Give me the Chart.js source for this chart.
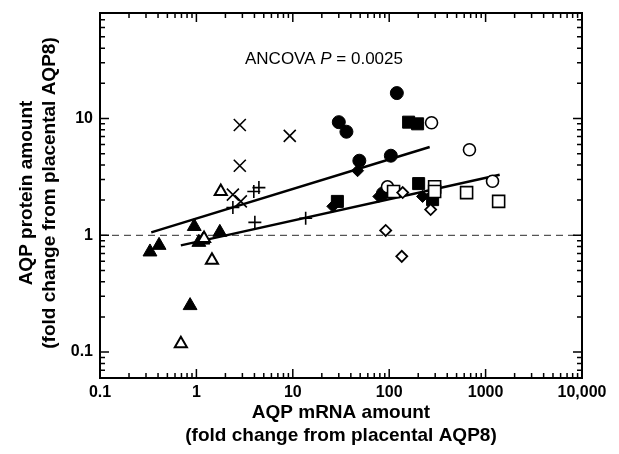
<!DOCTYPE html>
<html>
<head>
<meta charset="utf-8">
<script src="https://cdn.jsdelivr.net/npm/chart.js@4/dist/chart.umd.min.js"></script>
<style>
  html, body { margin: 0; padding: 0; background: #fff; }
  #wrap { width: 619px; height: 454px; }
</style>
</head>
<body>
<div id="wrap"><canvas id="myChart" width="619" height="454"></canvas></div>
<script>
// valeurs : [ARNm, protéine]
const filledCircles = [[120, 16.5], [30, 9.3], [36, 7.7], [49, 4.35], [104, 4.8], [86, 2.28]];
const filledSquares = [[159, 9.3], [197, 9.0], [29, 1.95], [202, 2.77], [282, 2.02]];
const filledDiamonds = [[47, 3.57], [26, 1.77], [78, 2.15], [222, 2.15]];
const filledTriangles = [[0.33, 0.72], [0.41, 0.82], [0.95, 1.19], [1.17, 0.91], [1.06, 0.87], [1.75, 1.06], [0.86, 0.25]];
const openCircles = [[275, 9.2], [680, 5.4], [1180, 2.9], [96, 2.6]];
const openSquares = [[111, 2.37], [296, 2.6], [296, 2.37], [635, 2.32], [1365, 1.95]];
const openDiamonds = [[138, 2.32], [92, 1.1], [135, 0.66], [269, 1.66]];
const openTriangles = [[1.79, 2.37], [1.2, 0.94], [1.45, 0.61], [0.69, 0.118]];
const crossMarks = [[2.82, 8.8], [9.3, 7.1], [2.82, 3.94], [2.39, 2.23], [2.89, 1.95]];
const plusMarks = [[2.39, 1.73], [3.94, 2.37], [4.45, 2.56], [4.04, 1.29], [13.6, 1.4]];
const upperFit = [[0.34, 1.06], [263, 5.7]];
const lowerFit = [[0.69, 0.82], [1400, 3.3]];
const refLine = [[0.1, 1], [10000, 1]];

const xTickLabels = ['0.1', '1', '10', '100', '1000', '10,000'];
const xTickValues = [0.1, 1, 10, 100, 1000, 10000];
const yTickLabels = ['0.1', '1', '10'];
const yTickValues = [0.1, 1, 10];

const toPts = arr => arr.map(p => ({ x: p[0], y: p[1] }));

function marks(data, style, r, filled, lw) {
    return {
        type: 'scatter',
        data: toPts(data),
        pointStyle: style,
        pointRadius: r,
        pointHoverRadius: r,
        pointBackgroundColor: filled ? '#000' : '#fff',
        pointBorderColor: '#000',
        pointBorderWidth: lw
    };
}

function fitLine(data, dash, color, lw) {
    return {
        type: 'line',
        data: toPts(data),
        borderColor: color,
        borderWidth: lw,
        borderDash: dash,
        pointRadius: 0,
        showLine: true,
        fill: false
    };
}

// cadre, graduations, étiquettes et titres
const framePlugin = {
    id: 'frame',
    afterDraw(chart) {
        const ctx = chart.ctx;
        const a = chart.chartArea;
        const xs = chart.scales.x, ys = chart.scales.y;
        ctx.save();
        ctx.strokeStyle = '#000';
        ctx.lineWidth = 2;
        ctx.strokeRect(a.left, a.top, a.right - a.left, a.bottom - a.top);

        ctx.lineWidth = 1.5;
        for (let d = -1; d <= 4; d++) {
            for (let k = 1; k <= 9; k++) {
                const v = k * Math.pow(10, d);
                if (v < 0.1 || v > 10000) continue;
                const px = xs.getPixelForValue(v);
                const len = k === 1 ? 9 : 5;
                ctx.beginPath();
                ctx.moveTo(px, a.bottom); ctx.lineTo(px, a.bottom - len);
                ctx.moveTo(px, a.top); ctx.lineTo(px, a.top + len);
                ctx.stroke();
            }
        }
        for (let d = -2; d <= 1; d++) {
            for (let k = 1; k <= 9; k++) {
                const v = k * Math.pow(10, d);
                if (v < 0.06 || v > 80) continue;
                const py = ys.getPixelForValue(v);
                const len = k === 1 ? 9 : 5;
                ctx.beginPath();
                ctx.moveTo(a.left, py); ctx.lineTo(a.left + len, py);
                ctx.moveTo(a.right, py); ctx.lineTo(a.right - len, py);
                ctx.stroke();
            }
        }

        ctx.fillStyle = '#000';
        ctx.font = 'bold 16px "Liberation Sans", Arial, sans-serif';
        ctx.textAlign = 'center';
        ctx.textBaseline = 'middle';
        xTickValues.forEach((v, i) => {
            ctx.fillText(xTickLabels[i], xs.getPixelForValue(v), a.bottom + 15);
        });
        ctx.textAlign = 'right';
        yTickValues.forEach((v, i) => {
            ctx.fillText(yTickLabels[i], a.left - 7, ys.getPixelForValue(v));
        });

        ctx.font = 'bold 19px "Liberation Sans", Arial, sans-serif';
        ctx.textAlign = 'center';
        const cx = (a.left + a.right) / 2;
        ctx.fillText('AQP mRNA amount', cx, 413);
        ctx.fillText('(fold change from placental AQP8)', cx, 436);

        ctx.save();
        ctx.translate(27, 193);
        ctx.rotate(-Math.PI / 2);
        ctx.fillText('AQP protein amount', 0, 0);
        ctx.restore();
        ctx.save();
        ctx.translate(50, 193);
        ctx.rotate(-Math.PI / 2);
        ctx.fillText('(fold change from placental AQP8)', 0, 0);
        ctx.restore();

        // annotation ANCOVA
        const parts = [
            ['ANCOVA ', '17px "Liberation Sans", Arial, sans-serif'],
            ['P', 'italic 17px "Liberation Sans", Arial, sans-serif'],
            [' = 0.0025', '17px "Liberation Sans", Arial, sans-serif']
        ];
        let tx = 245;
        ctx.textAlign = 'left';
        parts.forEach(p => {
            ctx.font = p[1];
            ctx.fillText(p[0], tx, 59);
            tx += ctx.measureText(p[0]).width;
        });
        ctx.restore();
    }
};

const ctx = document.getElementById('myChart').getContext('2d');
const myChart = new Chart(ctx, {
    data: {
        datasets: [
            marks(openDiamonds, 'rectRot', 5.5, false, 1.8),
            marks(openSquares, 'rect', 8.5, false, 1.6),
            marks(openCircles, 'circle', 6, false, 1.6),
            marks(openTriangles, 'triangle', 7, false, 2),
            marks(filledCircles, 'circle', 6.5, true, 1),
            marks(filledSquares, 'rect', 8.5, true, 1),
            marks(filledDiamonds, 'rectRot', 6, true, 1),
            marks(filledTriangles, 'triangle', 8, true, 1),
            marks(crossMarks, 'crossRot', 8.5, false, 1.6),
            marks(plusMarks, 'cross', 6.5, false, 1.6),
            fitLine(upperFit, [], '#000', 2.5),
            fitLine(lowerFit, [], '#000', 2.5),
            fitLine(refLine, [7, 5], '#555', 1.3)
        ]
    },
    options: {
        responsive: false,
        animation: false,
        layout: { padding: { left: 100, right: 37, top: 13, bottom: 76 } },
        plugins: { legend: { display: false }, tooltip: { enabled: false } },
        scales: {
            x: { type: 'logarithmic', min: 0.1, max: 10000, display: false },
            y: { type: 'logarithmic', min: 0.06, max: 80, display: false }
        }
    },
    plugins: [framePlugin]
});
</script>
</body>
</html>
